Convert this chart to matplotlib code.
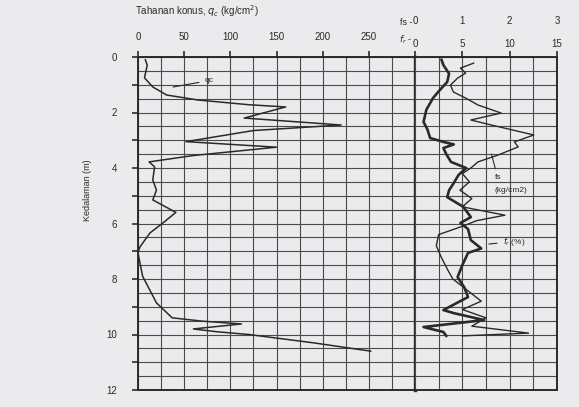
import numpy as np
import matplotlib.pyplot as plt
from matplotlib.ticker import MultipleLocator, FuncFormatter

plt.rcParams['font.family'] = ['Liberation Sans', 'DejaVu Sans']

# tahanan konus qc (kg/cm2) terhadap kedalaman (m)
qc_depth = [0.1, 0.3, 0.75, 1.08, 1.37, 1.55, 1.72, 1.8, 2.2, 2.45, 2.65, 3.05, 3.25,
            3.55, 3.78, 3.96, 4.43, 4.8, 5.15, 5.6, 5.98, 6.34, 6.85, 7.06, 7.9, 8.86,
            9.4, 9.52, 9.62, 9.8, 9.9, 10.0, 10.3, 10.6]
qc_val = [8, 10, 7, 16, 31, 65, 120, 160, 115, 220, 125, 52, 150,
          60, 12, 18, 16, 20, 16, 41, 27, 13, 2, 0, 5, 20,
          37, 70, 112, 60, 85, 120, 190, 252]

# hambatan lekat fs (kg/cm2)
fs_depth = [0.22, 0.40, 0.58, 0.76, 1.01, 1.26, 1.48, 1.73, 2.02, 2.27, 2.45, 2.81,
            3.06, 3.24, 3.53, 3.78, 4.0, 4.2, 4.5, 4.8, 5.1, 5.4, 5.7, 5.9, 6.1,
            6.4, 6.8, 7.2, 7.7, 8.0, 8.4, 8.8, 9.1, 9.4, 9.7, 9.95, 10.05]
fs_val = [1.24, 0.96, 1.07, 0.90, 0.75, 0.81, 1.07, 1.33, 1.82, 1.18, 1.61, 2.51,
          2.10, 2.18, 1.76, 1.33, 1.18, 1.0, 1.15, 0.95, 1.2, 1.0, 1.9, 1.3, 1.0,
          0.5, 0.45, 0.55, 0.7, 0.8, 1.1, 1.4, 1.0, 1.5, 1.2, 2.4, 1.0]

# rasio gesekan Rf (%)
rf_depth = [0.1, 0.29, 0.6, 0.9, 1.2, 1.48, 1.9, 2.34, 2.6, 2.92, 3.06, 3.15, 3.28,
            3.5, 3.78, 4.0, 4.25, 4.54, 4.8, 5.05, 5.4, 5.77, 5.98, 6.2, 6.6, 6.9,
            7.06, 7.5, 7.93, 8.3, 8.65, 9.12, 9.23, 9.48, 9.73, 9.91, 10.05]
rf_val = [2.8, 3.0, 3.6, 3.4, 2.6, 1.9, 1.2, 0.9, 1.3, 1.6, 3.0, 4.1, 3.0,
          3.3, 3.8, 5.4, 4.6, 4.1, 3.6, 3.4, 5.1, 5.9, 4.8, 5.6, 5.9, 7.0,
          5.6, 5.0, 4.5, 5.2, 5.6, 3.0, 4.1, 7.3, 0.9, 3.0, 3.3]

qc_ticks = [0, 50, 100, 150, 200, 250]
fs_ticks = [0, 1, 2, 3]
rf_ticks = [0, 5, 10, 15]
depth_ticks = list(range(0, 13))

bg = '#ebebed'
ink = '#2a2a2a'
gridc = '#4a4a4a'

fig = plt.figure(figsize=(5.79, 4.07), dpi=100, facecolor=bg)
axL = fig.add_axes([138/579, 17/407, 277/579, 333/407], facecolor=bg)
axR = fig.add_axes([415/579, 17/407, 142/579, 333/407], facecolor=bg, sharey=axL)

# ---- left panel: qc
axL.plot(qc_val, qc_depth, color=ink, lw=1.1)
axL.set_xlim(0, 300)
axL.set_ylim(12, 0)
axL.xaxis.tick_top()
axL.set_xticks(qc_ticks)
axL.xaxis.set_minor_locator(MultipleLocator(25))
axL.set_yticks(depth_ticks)
axL.yaxis.set_minor_locator(MultipleLocator(0.5))
axL.yaxis.set_major_formatter(FuncFormatter(lambda v, p: '%d' % v if int(v) % 2 == 0 else ''))
axL.tick_params(axis='x', which='major', direction='out', length=4, width=1.2,
                pad=7, labelsize=7, colors=ink)
axL.tick_params(axis='y', which='major', direction='out', length=4, width=1.2,
                pad=11, labelsize=7, colors=ink)
axL.tick_params(which='minor', length=0)
axL.tick_params(axis='y', which='both', right=False)
axL.grid(which='both', color=gridc, lw=0.8)
axL.set_axisbelow(True)
axL.set_ylabel('Kedalaman (m)', fontsize=6.5, color=ink)
axL.yaxis.set_label_coords(-0.165, 0.6)

# ---- right panel: Rf on a twin scale, fs on the panel itself
axRf = axR.twiny()
axRf.plot(rf_val, rf_depth, color=ink, lw=1.9)
axRf.set_xlim(0, 15)
axRf.set_xticks(rf_ticks)
axRf.tick_params(axis='x', which='both', length=0, pad=6, labelsize=7, colors=ink,
                 bottom=False, labelbottom=False)
axRf.set_ylim(12, 0)
for s in axRf.spines.values():
    s.set_visible(False)

axR.plot(fs_val, fs_depth, color=ink, lw=1.0)
axR.set_xlim(0, 3)
axR.set_xticks(fs_ticks)
axR.xaxis.set_minor_locator(MultipleLocator(0.5))
axR.xaxis.set_ticks_position('top')
axR.tick_params(axis='x', which='major', direction='out', length=4, width=1.2,
                pad=18, labelsize=7, colors=ink, top=True, labeltop=True,
                bottom=False, labelbottom=False)
axR.tick_params(axis='x', which='minor', bottom=False, top=False)
axR.tick_params(axis='y', which='both', left=False, right=False, labelleft=False, length=0)
axR.grid(which='both', color=gridc, lw=0.8)
axR.set_axisbelow(True)

for ax in (axL, axR):
    for s in ax.spines.values():
        s.set_color(ink)
        s.set_linewidth(1.4)
axL.spines['right'].set_linewidth(2.4)
axR.spines['left'].set_visible(False)

axR.text(-0.02, 1.105, 'fs -', transform=axR.transAxes, ha='right', va='center',
         fontsize=6.5, color=ink)
axR.text(-0.02, 1.051, '$f_r$ -', transform=axR.transAxes, ha='right', va='center',
         fontsize=6.5, color=ink)

# ---- labels on curves
axL.annotate('qc', xy=(35, 1.1), xytext=(72, 0.85), fontsize=6, color=ink, va='center',
             arrowprops=dict(arrowstyle='-', color=ink, lw=0.8))
axR.annotate('fs', xy=(1.6, 3.4), xytext=(1.68, 4.35), fontsize=6, color=ink, va='center',
             arrowprops=dict(arrowstyle='-', color=ink, lw=0.8))
axR.text(1.68, 4.8, '(kg/cm2)', fontsize=6, color=ink, va='center')
axR.annotate('$f_r$ (%)', xy=(1.5, 6.75), xytext=(1.85, 6.65), fontsize=6, color=ink,
             va='center', arrowprops=dict(arrowstyle='-', color=ink, lw=0.8))

fig.text(135/579, 1 - 11/407, 'Tahanan konus, $q_c$ (kg/cm$^2$)', fontsize=7,
         color=ink, va='center', ha='left')

fig.savefig('out.png', dpi=100, facecolor=bg)
